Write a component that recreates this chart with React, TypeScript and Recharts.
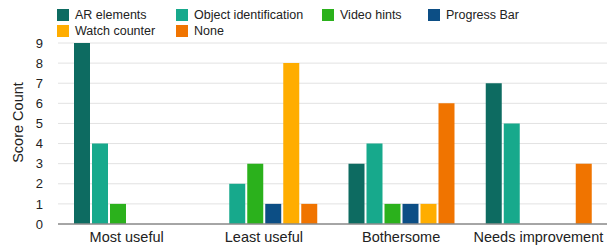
import React from "react";
import {
  BarChart,
  Bar,
  XAxis,
  YAxis,
  CartesianGrid,
  Legend,
  Label,
} from "recharts";

const categories = ["Most useful", "Least useful", "Bothersome", "Needs improvement"];
const arElements = [9, 0, 3, 7];
const objectIdentification = [4, 2, 4, 5];
const videoHints = [1, 3, 1, 0];
const progressBar = [0, 1, 1, 0];
const watchCounter = [0, 8, 1, 0];
const none = [0, 1, 6, 3];
const yTicks = [0, 1, 2, 3, 4, 5, 6, 7, 8, 9];

const series = [
  { key: "ar", name: "AR elements", color: "#0d6b61", values: arElements },
  { key: "obj", name: "Object identification", color: "#17a98c", values: objectIdentification },
  { key: "video", name: "Video hints", color: "#2bb11c", values: videoHints },
  { key: "progress", name: "Progress Bar", color: "#0c4e85", values: progressBar },
  { key: "watch", name: "Watch counter", color: "#ffad00", values: watchCounter },
  { key: "none", name: "None", color: "#f07400", values: none },
];

const data = categories.map((name, i) => {
  const row: any = { name };
  series.forEach((s) => (row[s.key] = s.values[i]));
  return row;
});

const FONT = "'Liberation Sans', Arial, Helvetica, sans-serif";

const MyLegend = () => (
  <div
    style={{
      display: "grid",
      gridTemplateColumns: "119px 146px 106px auto",
      rowGap: 2,
      paddingLeft: 57,
      paddingTop: 2,
      fontFamily: FONT,
      fontSize: 12.5,
      color: "#222",
    }}
  >
    {series.map((s) => (
      <div key={s.key} style={{ display: "flex", alignItems: "center", height: 14 }}>
        <span
          style={{
            display: "inline-block",
            width: 12,
            height: 12,
            background: s.color,
            marginRight: 6,
          }}
        />
        <span>{s.name}</span>
      </div>
    ))}
  </div>
);

const YLabel = (props: any) => {
  const vb = props.viewBox || {};
  const cx = 18;
  const cy = vb.y + vb.height / 2 - 11;
  return (
    <text
      x={cx}
      y={cy}
      transform={`rotate(-90 ${cx} ${cy})`}
      textAnchor="middle"
      dominantBaseline="central"
      fill="#222"
      fontSize={14.5}
      fontFamily={FONT}
    >
      Score Count
    </text>
  );
};

export default function App() {
  return (
    <div style={{ position: "absolute", left: 0, top: 0, background: "#fff" }}>
      <BarChart
        width={615}
        height={250}
        data={data}
        barSize={16}
        barGap={2}
        margin={{ top: 11, right: 8, left: 0, bottom: 6 }}
      >
        <Legend
          verticalAlign="top"
          align="left"
          wrapperStyle={{ top: 6 }}
          content={() => <MyLegend />}
        />
        <CartesianGrid vertical={false} stroke="#e2e2e2" />
        <XAxis
          dataKey="name"
          height={20}
          tickLine={false}
          tickSize={0}
          tickMargin={8}
          axisLine={{ stroke: "#8c8c8c", strokeWidth: 1.5 }}
          tick={{ fill: "#222", fontSize: 14.5, fontFamily: FONT }}
          interval={0}
        />
        <YAxis
          width={58}
          domain={[0, 9]}
          ticks={yTicks}
          interval={0}
          axisLine={false}
          tickLine={false}
          tickSize={0}
          tickMargin={15}
          tick={{ fill: "#222", fontSize: 13, fontFamily: FONT }}
        >
          <Label content={YLabel} />
        </YAxis>
        {series.map((s) => (
          <Bar
            key={s.key}
            dataKey={s.key}
            name={s.name}
            fill={s.color}
            isAnimationActive={false}
          />
        ))}
      </BarChart>
    </div>
  );
}
